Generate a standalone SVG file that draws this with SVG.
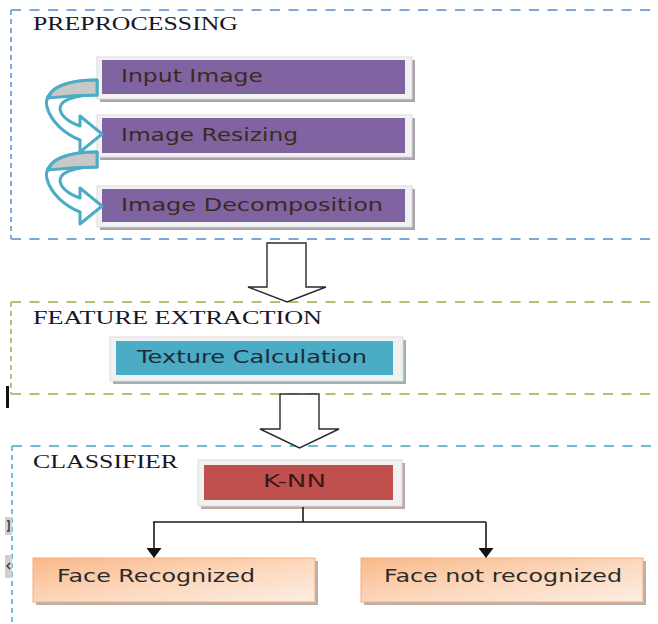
<svg xmlns="http://www.w3.org/2000/svg" width="658" height="624" viewBox="0 0 658 624">
  <style>
    .title { font-family: "Liberation Serif", "Times New Roman", serif; font-size: 19px; fill: #16162a; }
    .label { font-family: "DejaVu Sans", Verdana, sans-serif; font-size: 17.5px; }
    .frame { fill: #f1f1f1; stroke: #dcdcdc; stroke-width: 1; }
    .shadow { fill: #a8a3ad; }
    .block { fill: #ffffff; stroke: #2a2a2a; stroke-width: 1.4; stroke-linejoin: miter; }
    .curve { fill: #ffffff; stroke: #4bacc6; stroke-width: 3; stroke-linejoin: round; }
    .curveback { fill: #c8c8c8; stroke: #4bacc6; stroke-width: 3; stroke-linejoin: round; }
    .link { fill: none; stroke: #1a1a1a; stroke-width: 1.6; }
    .dash { fill: none; stroke-width: 1.9; }
  </style>
  <defs>
    <marker id="tri" viewBox="0 0 10 10" refX="9" refY="5" markerWidth="10" markerHeight="15" markerUnits="userSpaceOnUse" orient="auto" preserveAspectRatio="none">
      <path d="M0,0 L10,5 L0,10 Z" fill="#111111"/>
    </marker>
    <linearGradient id="peach" x1="0" y1="0" x2="1" y2="1">
      <stop offset="0" stop-color="#f9b98a"/>
      <stop offset="0.55" stop-color="#fcd9bf"/>
      <stop offset="1" stop-color="#fdeee3"/>
    </linearGradient>
  </defs>

  <rect width="658" height="624" fill="#ffffff"/>

  <!-- stage containers -->
  <g id="stage-preprocessing">
    <path class="dash" d="M11,10 H658" stroke="#7ea6d6" stroke-dasharray="10 8.5"/>
    <path class="dash" d="M11,239 H658" stroke="#7ea6d6" stroke-dasharray="10 8.5"/>
    <path class="dash" d="M11,10 V239" stroke="#7ea6d6" stroke-dasharray="5 4"/>
    <text class="title" x="33" y="30" textLength="205" lengthAdjust="spacingAndGlyphs">PREPROCESSING</text>
  </g>
  <g id="stage-feature">
    <path class="dash" d="M11,302 H658" stroke="#a9c673" stroke-dasharray="10 8.5"/>
    <path class="dash" d="M11,394 H658" stroke="#a9c673" stroke-dasharray="10 8.5"/>
    <path class="dash" d="M11,302 V394" stroke="#a9c673" stroke-dasharray="5 4"/>
    <text class="title" x="33" y="324" textLength="289" lengthAdjust="spacingAndGlyphs">FEATURE EXTRACTION</text>
  </g>
  <g id="stage-classifier">
    <path class="dash" d="M12,446 H658" stroke="#6cbcd4" stroke-dasharray="10 8.5"/>
    <path class="dash" d="M12,446 V624" stroke="#6cbcd4" stroke-dasharray="5 4"/>
    <text class="title" x="33" y="468" textLength="145" lengthAdjust="spacingAndGlyphs">CLASSIFIER</text>
  </g>

  <!-- margin marks -->
  <g id="margin-marks">
    <rect x="6" y="386" width="3" height="22" fill="#111111"/>
    <rect x="5" y="517" width="7" height="18" fill="#cfcfcf"/>
    <path d="M7,521 H9 V531 H7" fill="none" stroke="#3a3020" stroke-width="1.4"/>
    <rect x="5" y="555" width="7" height="23" fill="#cfcfcf"/>
    <path d="M10,563 L7,566 L10,569" fill="none" stroke="#3a3020" stroke-width="1.4"/>
  </g>

  <!-- processing nodes -->
  <g id="node-input-image">
    <rect class="shadow" x="100" y="60" width="315" height="42"/>
    <rect class="frame" x="97" y="57" width="315" height="42"/>
    <rect x="102" y="60" width="303" height="34" fill="#8064a2"/>
    <text class="label" x="121" y="82" fill="#3a2a1e" textLength="142" lengthAdjust="spacingAndGlyphs">Input Image</text>
  </g>
  <g id="node-image-resizing">
    <rect class="shadow" x="100" y="118" width="315" height="42"/>
    <rect class="frame" x="97" y="115" width="315" height="42"/>
    <rect x="102" y="118" width="303" height="35" fill="#8064a2"/>
    <text class="label" x="121" y="141" fill="#3a2a1e" textLength="177" lengthAdjust="spacingAndGlyphs">Image Resizing</text>
  </g>
  <g id="node-image-decomposition">
    <rect class="shadow" x="100" y="189" width="315" height="41"/>
    <rect class="frame" x="97" y="186" width="315" height="41"/>
    <rect x="102" y="189" width="303" height="33" fill="#8064a2"/>
    <text class="label" x="121" y="211" fill="#3a2a1e" textLength="262" lengthAdjust="spacingAndGlyphs">Image Decomposition</text>
  </g>
  <g id="node-texture">
    <rect x="113" y="340" width="293" height="44" fill="#9fb0b8"/>
    <rect class="frame" x="110" y="337" width="293" height="44"/>
    <rect x="116" y="341" width="277" height="34" fill="#4bacc6"/>
    <text class="label" x="137" y="363" fill="#1e2a38" textLength="230" lengthAdjust="spacingAndGlyphs">Texture Calculation</text>
  </g>
  <g id="node-knn">
    <rect x="201" y="463" width="204" height="46" fill="#c3a6a6"/>
    <rect class="frame" x="198" y="460" width="204" height="46"/>
    <rect x="204" y="465" width="189" height="35" fill="#c0504d"/>
    <text class="label" x="263" y="487" fill="#3a1a18" textLength="63" lengthAdjust="spacingAndGlyphs">K-NN</text>
  </g>
  <g id="node-face-recognized">
    <rect x="36" y="561" width="282" height="44" fill="#b8b0aa"/>
    <rect x="33" y="558" width="282" height="44" fill="url(#peach)" stroke="#f4ad7e" stroke-width="1"/>
    <text class="label" x="57" y="582" fill="#2a2a2a" textLength="198" lengthAdjust="spacingAndGlyphs">Face Recognized</text>
  </g>
  <g id="node-face-not-recognized">
    <rect x="364" y="561" width="282" height="44" fill="#b8b0aa"/>
    <rect x="361" y="558" width="282" height="44" fill="url(#peach)" stroke="#f4ad7e" stroke-width="1"/>
    <text class="label" x="384" y="582" fill="#2a2a2a" textLength="238" lengthAdjust="spacingAndGlyphs">Face not recognized</text>
  </g>

  <!-- connectors -->
  <g id="connectors">
    <!-- curved step arrows -->
    <g id="curve-input-resize">
      <path class="curve" d="M97,80 C62,80 43,92 47,107 C51,122 65,134 80,140 L80,152 L102,134 L80,116 L80,126 C68,122 60,115 60,108 C61,100 74,95 97,95 Z"/>
      <path class="curveback" d="M97,80 C66,80 50,88 49,98 C58,97 72,95 97,95 Z"/>
    </g>
    <g id="curve-resize-decomp" transform="translate(0,72)">
      <path class="curve" d="M97,80 C62,80 43,92 47,107 C51,122 65,134 80,140 L80,152 L102,134 L80,116 L80,126 C68,122 60,115 60,108 C61,100 74,95 97,95 Z"/>
      <path class="curveback" d="M97,80 C66,80 50,88 49,98 C58,97 72,95 97,95 Z"/>
    </g>
    <!-- block arrows between stages -->
    <path id="block-pre-feature" class="block" d="M267,243 H306 V287 H326 L287,302 L248,287 H267 Z"/>
    <path id="block-feature-class" class="block" d="M280,394 H319 V429 H339 L299.5,448 L260,429 H280 Z"/>
    <!-- classifier outcomes -->
    <path class="link" d="M303,507 V522"/>
    <path class="link" d="M153,522 H486"/>
    <path class="link" d="M154,522 V557" marker-end="url(#tri)"/>
    <path class="link" d="M486,522 V557" marker-end="url(#tri)"/>
  </g>
</svg>
